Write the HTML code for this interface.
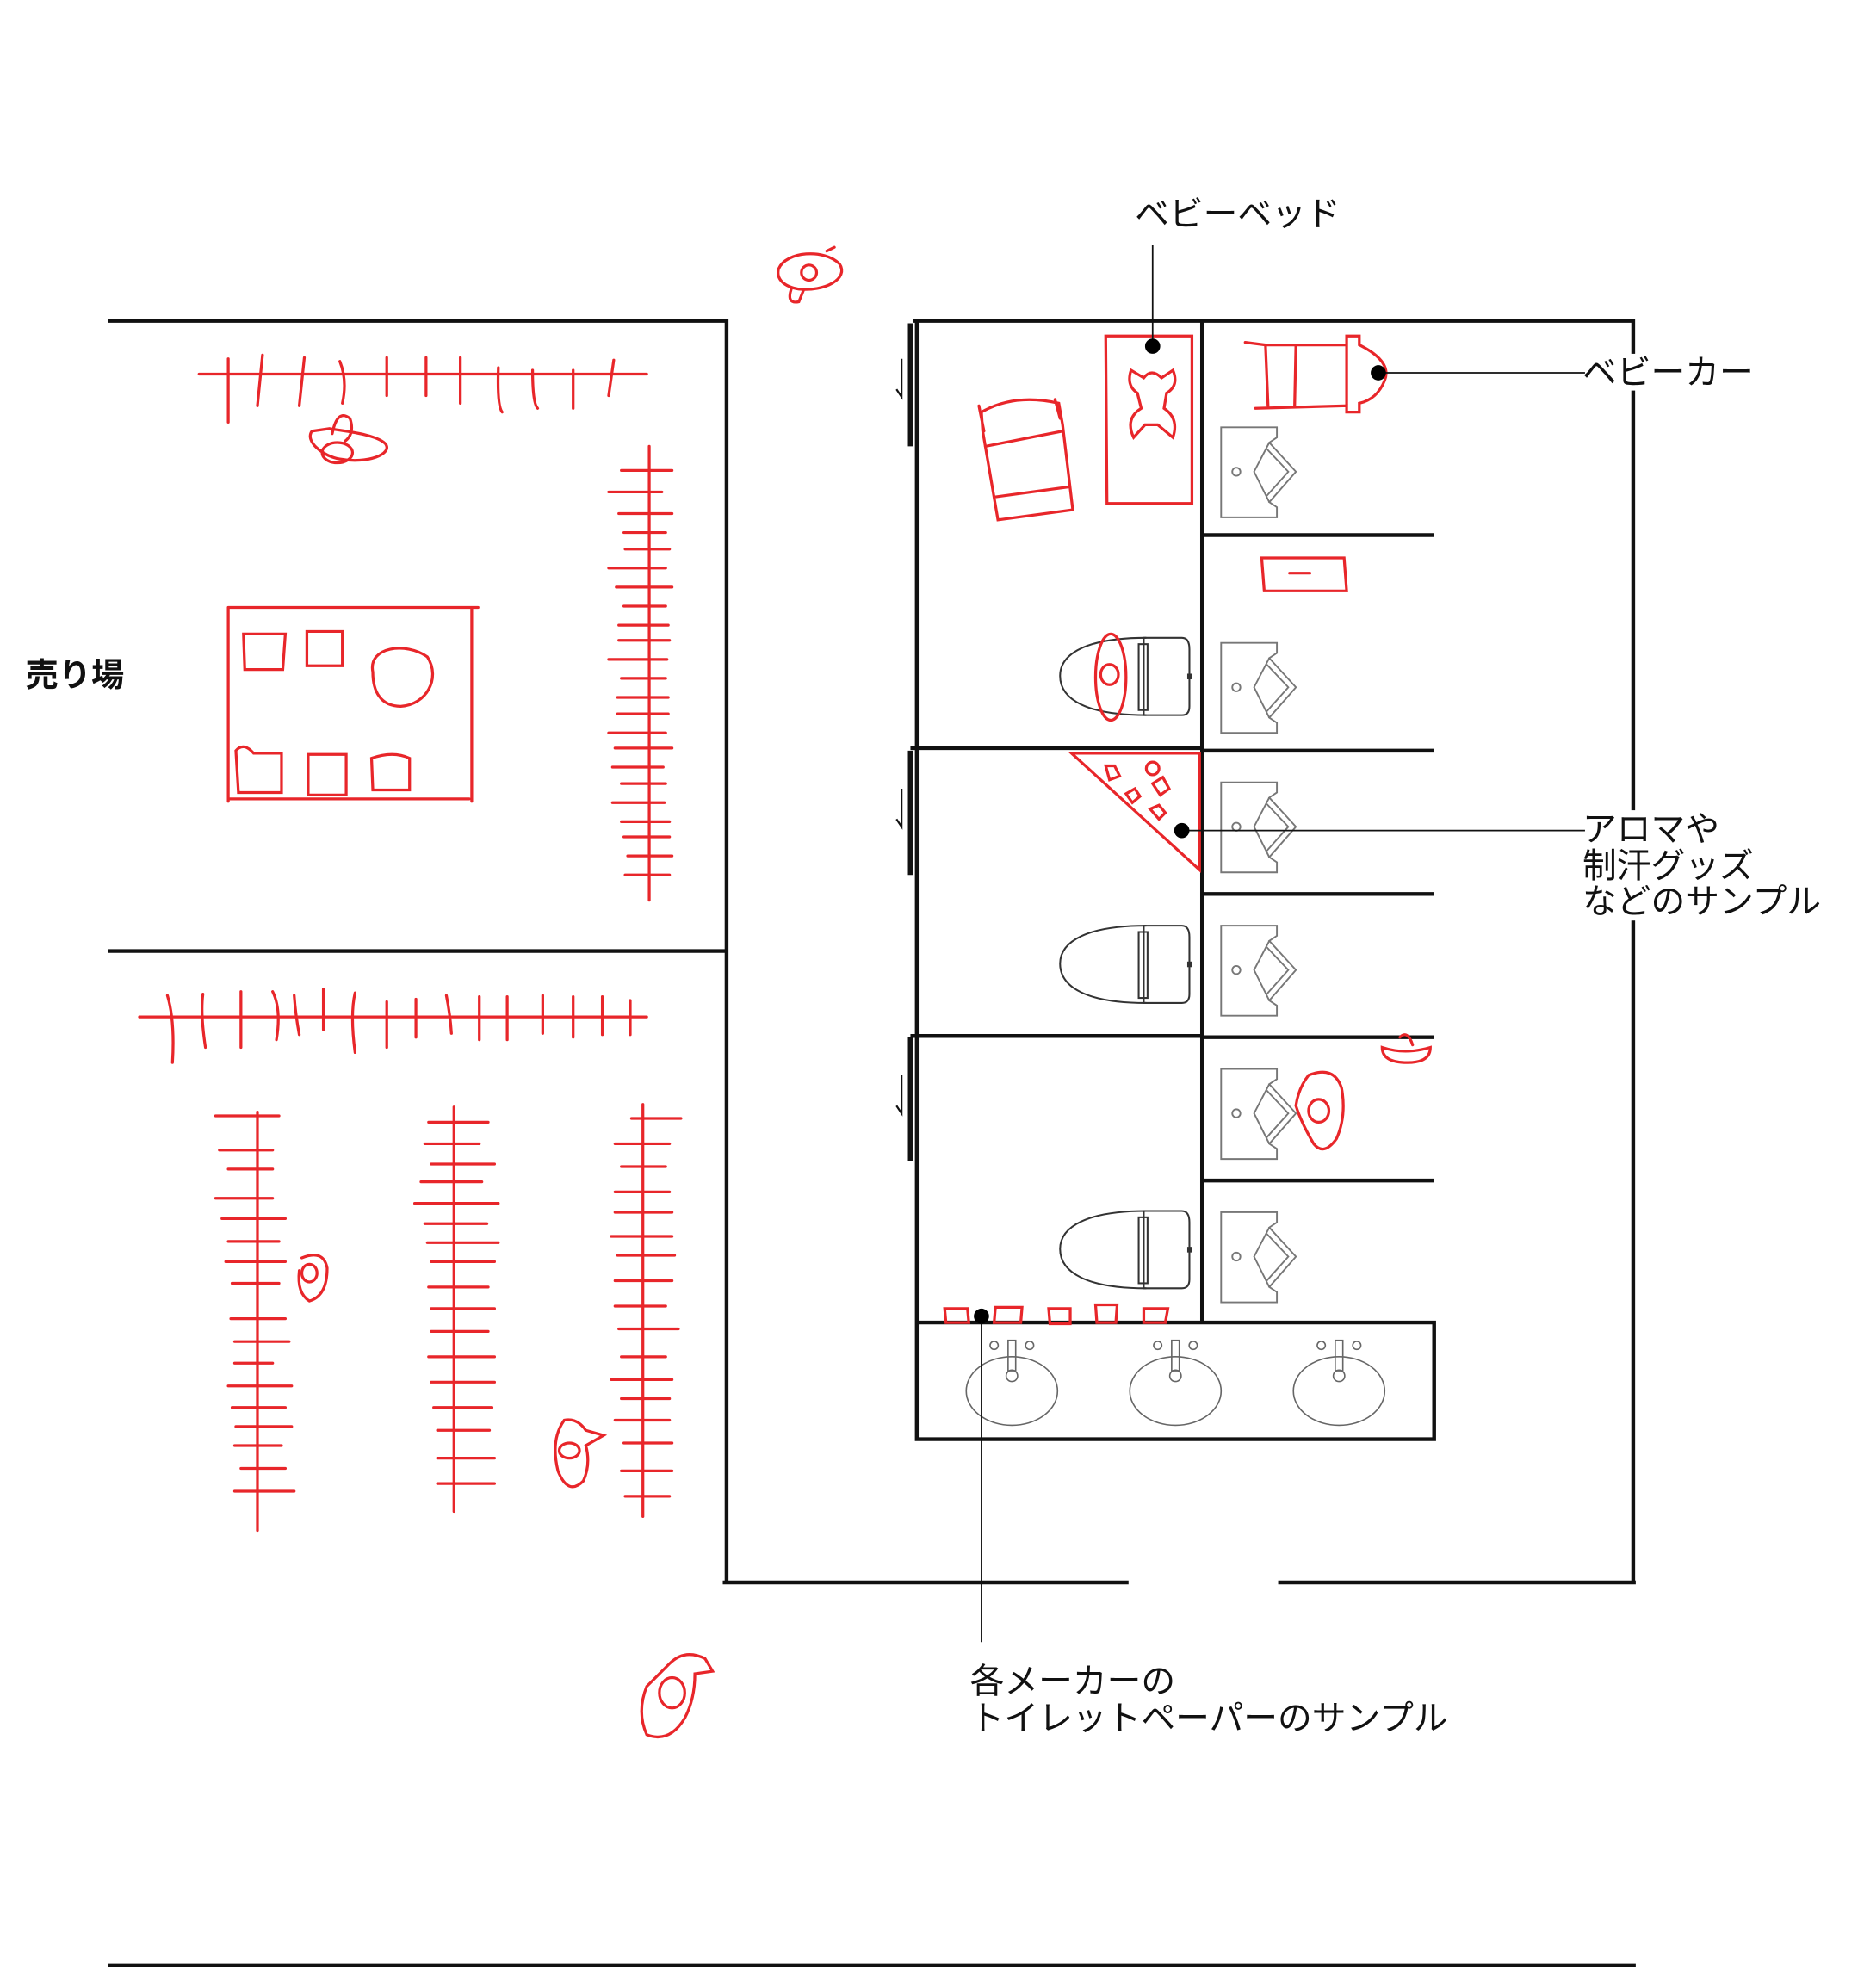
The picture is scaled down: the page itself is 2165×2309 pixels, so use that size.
<!DOCTYPE html>
<html><head><meta charset="utf-8"><style>
html,body{margin:0;padding:0;background:#fff;}
svg{display:block;}
text{font-family:"Liberation Sans","Noto Sans CJK JP",sans-serif;fill:#111;}
</style></head><body>
<svg width="2165" height="2309" viewBox="0 0 1470 1567.8" xmlns="http://www.w3.org/2000/svg">
<defs>
<g id="uri" fill="none" stroke="#777" stroke-width="1.3">
<path d="M0,0 H44 V8 L38,12 L59,35 L38,59 L44,63 V71 H0 Z"/>
<path d="M38,12 L26,35 L38,59"/>
<path d="M36,17 L53,35 L36,54"/>
<circle cx="12" cy="35" r="3.2"/>
</g>
<g id="toi" fill="none" stroke="#333" stroke-width="1.4">
<path d="M68,3 C22,3 0,15 0,33 C0,52 22,64 68,64"/>
<path d="M66,3 H96 Q102,3 102,12 V57 Q102,64 96,64 H66 Z"/>
<rect x="62" y="8" width="7" height="52"/>
<rect x="101" y="32" width="2.5" height="3" fill="#333"/>
</g>
<g id="sink" fill="none" stroke="#666" stroke-width="1.1">
<ellipse cx="0" cy="40" rx="36" ry="27"/>
<rect x="-3" y="0" width="6" height="24"/>
<circle cx="0" cy="28" r="4.5"/>
<circle cx="-14" cy="4" r="3.2"/><circle cx="14" cy="4" r="3.2"/>
</g>
</defs>

<g stroke="#111" stroke-width="3" fill="none">
<path d="M85,253 H573 V1248"/>
<path d="M85,750 H573"/>
<path d="M570,1248 H890 M1008,1248 H1290"/>
<path d="M720,253 H1288 V1248"/>
<path d="M85,1550 H1290"/>
<path d="M723,253 V1135 H1131 V1043 H723"/>
<path d="M948,253 V1043"/>
<path d="M718,590 H948 M718,817 H948"/>
<path d="M948,422 H1131 M948,592 H1131 M948,705 H1131 M948,818 H1131 M948,931 H1131"/>
</g>
<g stroke="#111" stroke-width="4">
<path d="M718,255 V352 M718,592 V690 M718,818 V916"/>
</g>
<g stroke="#111" stroke-width="1.5" fill="none">
<path d="M711,283 V313 L707,307 M711,622 V652 L707,646 M711,848 V878 L707,872"/>
</g>

<use href="#uri" x="963" y="337"/>
<use href="#uri" x="963" y="507"/>
<use href="#uri" x="963" y="617"/>
<use href="#uri" x="963" y="730"/>
<use href="#uri" x="963" y="843"/>
<use href="#uri" x="963" y="956"/>
<use href="#toi" x="836" y="500"/>
<use href="#toi" x="836" y="727"/>
<use href="#toi" x="836" y="952"/>
<use href="#sink" x="798" y="1057"/>
<use href="#sink" x="927" y="1057"/>
<use href="#sink" x="1056" y="1057"/>

<g stroke="#e8262a" stroke-width="2.2" fill="none" stroke-linecap="round">
<path d="M157,295 H510"/>
<path d="M180,283 V333 M207,280 L203,320 M240,282 L236,320 M268,285 Q274,300 270,318 M305,282 V312 M336,282 V312 M363,282 V318 M393,290 Q392,320 396,325 M420,292 Q420,318 424,322 M452,292 V322 M484,284 L480,312"/>
<path d="M512,352 V710"/>
<path d="M490,371 H530 M480,388 H522 M488,405 H530 M492,420 H525 M493,433 H528 M480,448 H525 M486,463 H530 M492,478 H525 M488,493 H527 M488,505 H528 M480,520 H526 M490,535 H525 M487,550 H527 M487,563 H527 M480,578 H525 M485,590 H530 M483,605 H523 M490,618 H525 M483,633 H524 M490,648 H528 M492,660 H528 M495,675 H530 M493,690 H528"/>
<path d="M180,479 H377 M180,479 V632 M180,630 H370 M372,479 V632"/>
<path d="M192,500 H225 L223,528 H193 Z M242,498 H270 V525 H242 Z M294,530 C290,510 320,506 337,518 C348,535 336,556 316,557 C300,557 294,545 294,530 Z"/>
<path d="M186,592 Q192,585 200,594 H222 V625 H188 Z M243,595 H273 V627 H243 Z M293,598 Q310,592 323,598 V623 H294 Z"/>
<path d="M110,802 H510"/>
<path d="M132,785 Q138,805 136,838 M160,784 Q158,800 162,826 M190,782 V826 M215,782 Q222,796 218,820 M232,785 Q233,800 236,816 M255,780 V812 M280,783 Q276,800 280,830 M305,790 V826 M328,788 V818 M352,785 Q355,800 356,815 M378,786 V820 M400,786 V820 M428,785 V815 M452,786 V818 M475,786 V816 M497,789 V816"/>
<path d="M203,877 V1207"/>
<path d="M170,880 H220 M173,907 H215 M180,922 H215 M170,945 H215 M175,961 H225 M180,979 H220 M178,995 H225 M183,1012 H220 M182,1040 H225 M185,1058 H228 M185,1075 H215 M180,1093 H230 M183,1110 H225 M186,1125 H230 M185,1140 H222 M190,1158 H225 M185,1176 H232"/>
<path d="M358,873 V1192"/>
<path d="M338,885 H385 M335,902 H378 M340,918 H390 M332,932 H380 M327,949 H393 M335,965 H384 M337,980 H393 M340,995 H390 M338,1015 H385 M340,1032 H390 M340,1050 H385 M338,1070 H390 M340,1090 H390 M342,1110 H388 M345,1128 H386 M345,1150 H390 M345,1170 H390"/>
<path d="M507,871 V1196"/>
<path d="M498,882 H537 M485,902 H528 M490,920 H525 M485,940 H528 M485,956 H530 M482,975 H530 M487,990 H532 M485,1010 H530 M485,1030 H525 M488,1048 H535 M490,1070 H525 M482,1088 H530 M490,1103 H528 M485,1120 H528 M492,1138 H530 M490,1160 H530 M493,1180 H528"/>
<path d="M614,212 C620,198 650,196 662,208 C670,220 650,230 630,228 C618,226 612,220 614,212 Z M624,228 Q620,240 630,238 L634,228 M652,198 L658,195"/>
<circle cx="638" cy="215" r="6"/>
<path d="M246,340 C240,348 255,360 268,362 C290,366 310,358 304,350 C296,342 270,340 260,338 Z M262,342 Q266,322 276,330 Q280,342 272,348"/>
<ellipse cx="266" cy="357" rx="12" ry="8"/>
<path d="M238,992 Q255,985 258,1000 Q258,1022 244,1026 Q234,1020 236,1002"/>
<ellipse cx="244" cy="1004" rx="6" ry="7"/>
<path d="M445,1120 Q434,1135 440,1160 Q448,1180 460,1168 Q466,1155 462,1140 L476,1132 L462,1128 Q455,1118 445,1120 Z"/>
<ellipse cx="449" cy="1144" rx="8" ry="6"/>
<path d="M510,1330 Q502,1350 510,1368 Q528,1375 540,1355 Q548,1340 548,1320 L562,1318 L556,1308 Q540,1300 528,1312 Z"/>
<ellipse cx="530" cy="1335" rx="10" ry="12"/>
<path d="M872,265 H940 V397 H873 Z"/>
<path d="M902,298 Q908,290 916,298 L925,292 Q930,304 920,310 L918,322 Q930,330 925,345 L913,335 H903 L894,345 Q887,330 900,322 L897,310 Q888,304 892,292 Z"/>
<path d="M774,325 Q800,310 835,318 L838,335 L846,402 L787,410 L775,340 Z M777,352 L838,340 M784,392 L843,384 M772,320 L776,340 M832,315 L836,330"/>
<path d="M982,270 L998,272 L1062,272 V265 H1072 V272 Q1098,285 1092,300 Q1086,315 1072,318 V325 H1062 V320 L990,322 M998,272 L1000,320 M1022,272 L1021,320 M1062,272 V320"/>
<path d="M995,440 H1060 L1062,466 H997 Z M1017,452 H1033"/>
<ellipse cx="876" cy="534" rx="12" ry="34"/>
<ellipse cx="875" cy="532" rx="7" ry="8"/>
<path d="M845,594 H946 V686 Z"/>
<path d="M872,604 h7 l4,8 -8,3 z M888,626 l7,-4 4,6 -6,5 z M909,618 l8,-5 5,9 -7,5 z M907,638 l7,-3 5,6 -5,5 z"/>
<circle cx="909" cy="606" r="5"/>
<path d="M1032,848 Q1052,840 1058,858 Q1062,880 1054,898 Q1044,912 1036,902 Q1026,885 1022,872 Q1024,858 1032,848 Z"/>
<ellipse cx="1040" cy="876" rx="8" ry="9"/>
<path d="M1090,826 Q1108,832 1128,826 Q1128,838 1110,838 Q1090,838 1090,826 Z M1104,818 Q1110,812 1114,824"/>
<path d="M745,1032 H763 L764,1043 H746 Z M785,1031 H806 L805,1043 H784 Z M827,1032 H844 V1044 H828 Z M864,1029 H881 L880,1043 H865 Z M902,1032 H921 L919,1043 H902 Z"/>
</g>

<g stroke="#111" stroke-width="1.2">
<path d="M909,193 V273"/>
<path d="M1087,294 H1250"/>
<path d="M932,655 H1250"/>
<path d="M774,1038 V1295"/>
</g>
<g fill="#000">
<circle cx="909" cy="273" r="6"/>
<circle cx="1087" cy="294" r="6"/>
<circle cx="932" cy="655" r="6"/>
<circle cx="774" cy="1038" r="6"/>
</g>
<rect x="1250" y="279" width="135" height="29" fill="#fff"/>
<rect x="1250" y="639" width="186" height="87" fill="#fff"/>
<g font-size="27">
<text x="895" y="178">ベビーベッド</text>
<text x="1248" y="303">ベビーカー</text>
<text x="1248" y="663">アロマや</text>
<text x="1248" y="692">制汗グッズ</text>
<text x="1248" y="720">などのサンプル</text>
<text x="765" y="1335">各メーカーの</text>
<text x="765" y="1364">トイレットペーパーのサンプル</text>
</g>
<text x="20" y="541" font-size="26" font-weight="bold">売り場</text>
</svg>
</body></html>
